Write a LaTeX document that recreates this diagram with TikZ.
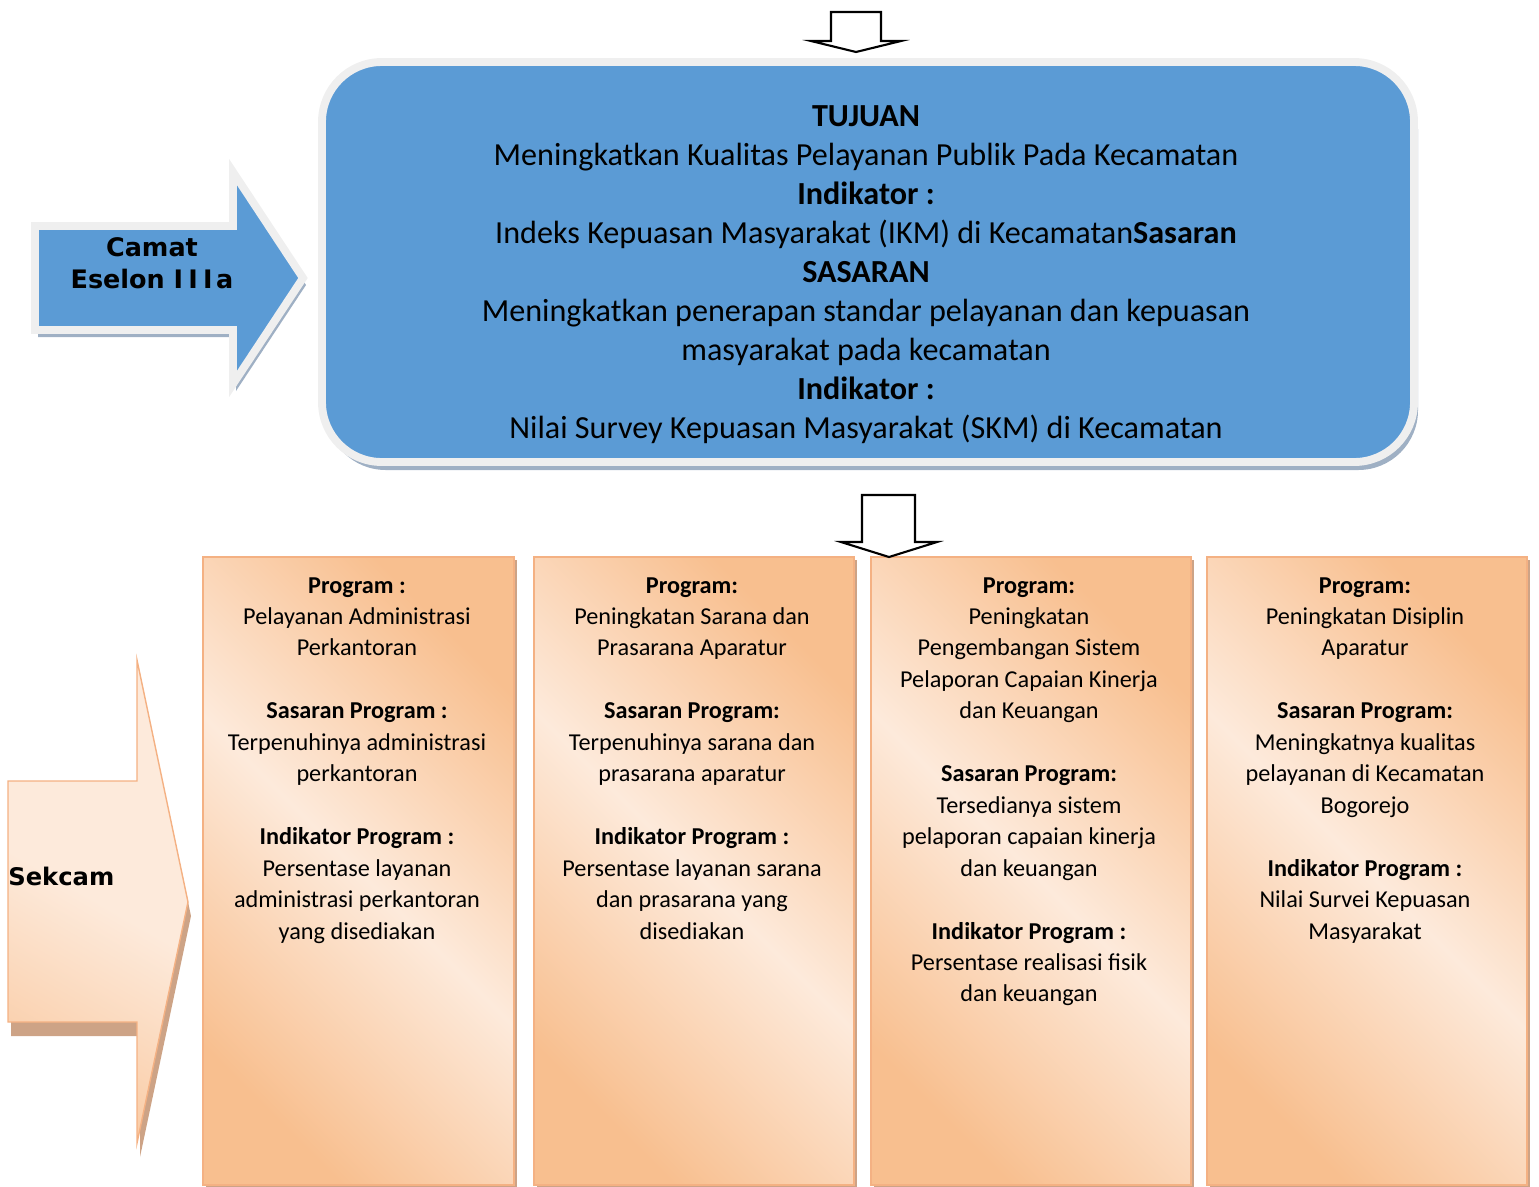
\documentclass[tikz,border=0pt]{standalone}
\usepackage{fontspec}
\setmainfont{Carlito}
\newfontfamily\verdana{DejaVu Sans}
\definecolor{tujuanblue}{HTML}{5B9BD5}
\definecolor{rimgray}{HTML}{EFEFEF}
\definecolor{blueshadow}{HTML}{9FB0C4}
\definecolor{peach}{HTML}{F8BF8F}
\definecolor{peachlight}{HTML}{FDEADB}
\definecolor{peachline}{HTML}{F4B183}
\definecolor{tanshadow}{HTML}{CDA386}

\begin{document}
\begin{tikzpicture}[x=0.02cm,y=-0.02cm,
		blockarrow/.style={draw=black,line width=1.2pt,fill=white,line join=miter},
		bluebody/.style={fill=tujuanblue,draw=rimgray,line width=4.5pt},
		blueshade/.style={fill=blueshadow},
		progbody/.style={draw=peachline,line width=0.8pt,shading=axis,top color=peach,bottom color=peach,middle color=peachlight,shading angle=-45},
		progshade/.style={fill=tanshadow},
		bigtext/.style={align=center,font=\fontsize{18.3}{22.2}\selectfont,inner sep=0pt},
		progtext/.style={align=center,anchor=north,font=\fontsize{13.8}{17.9}\selectfont,inner sep=0pt},
		labeltext/.style={align=center,font=\verdana\bfseries\fontsize{14.5}{18.2}\selectfont,inner sep=0pt}]
		\useasboundingbox (0,0) rectangle (1539,1187);
		\draw[blockarrow] (831,12) -- (881,12) -- (881,41) -- (901,41) -- (856,52) -- (811,41) -- (831,41) -- cycle;
		\fill[blueshade,rounded corners=34pt] (326,70) rectangle (1418,470);
		\draw[bluebody,rounded corners=34pt] (322,62) rectangle (1414,462);
		\node[bigtext] (tujuan) at (866,275) {\textbf{TUJUAN}\\
			Meningkatkan Kualitas Pelayanan Publik Pada Kecamatan\\
			\textbf{Indikator :}\\
			Indeks Kepuasan Masyarakat (IKM) di Kecamatan\textbf{Sasaran}\\
			\textbf{SASARAN}\\
			Meningkatkan penerapan standar pelayanan dan kepuasan\\
			masyarakat pada kecamatan\\
			\textbf{Indikator :}\\
			Nilai Survey Kepuasan Masyarakat (SKM) di Kecamatan};
		\fill[blueshade] (38,233) -- (236,233) -- (236,179) -- (306,285) -- (236,391) -- (236,337) -- (38,337) -- cycle;
		\draw[bluebody,line join=miter] (35,226) -- (233,226) -- (233,172) -- (303,278) -- (233,384) -- (233,330) -- (35,330) -- cycle;
		\node[labeltext] (camat) at (152,263) {Camat\\Eselon I\kern3pt I\kern3pt I\kern2pt a};
		\fill[progshade] (11,795) -- (140,795) -- (140,674) -- (191,916) -- (140,1157) -- (140,1036) -- (11,1036) -- cycle;
		\draw[draw=peachline,line width=0.8pt,shading=axis,top color=peachlight,bottom color=peach!70!peachlight,middle color=peachlight,shading angle=-30] (8,781) -- (137,781) -- (137,660) -- (188,902) -- (137,1143) -- (137,1022) -- (8,1022) -- cycle;
		\node[labeltext,anchor=west,font=\verdana\bfseries\fontsize{13.8}{18}\selectfont] (sekcam) at (8,876) {Sekcam};
		\foreach \xa/\xb in {203/514,534/854,871/1191,1207/1527} {
			\fill[progshade] (\xa+3,560) rectangle (\xb+3,1188);
			\draw[progbody] (\xa,557) rectangle (\xb,1185);
		}
		\node[progtext] (prog1) at (357,577) {\textbf{Program :}\\
			Pelayanan Administrasi\\ Perkantoran\\[17.9pt]
			\textbf{Sasaran Program :}\\
			Terpenuhinya administrasi\\ perkantoran\\[17.9pt]
			\textbf{Indikator Program :}\\
			Persentase layanan\\ administrasi perkantoran\\ yang disediakan};
		\node[progtext] (prog2) at (692,577) {\textbf{Program:}\\
			Peningkatan Sarana dan\\ Prasarana Aparatur\\[17.9pt]
			\textbf{Sasaran Program:}\\
			Terpenuhinya sarana dan\\ prasarana aparatur\\[17.9pt]
			\textbf{Indikator Program :}\\
			Persentase layanan sarana\\ dan prasarana yang\\ disediakan};
		\node[progtext] (prog3) at (1029,577) {\textbf{Program:}\\
			Peningkatan\\ Pengembangan Sistem\\ Pelaporan Capaian Kinerja\\ dan Keuangan\\[17.9pt]
			\textbf{Sasaran Program:}\\
			Tersedianya sistem\\ pelaporan capaian kinerja\\ dan keuangan\\[17.9pt]
			\textbf{Indikator Program :}\\
			Persentase realisasi fisik\\ dan keuangan};
		\node[progtext] (prog4) at (1365,577) {\textbf{Program:}\\
			Peningkatan Disiplin\\ Aparatur\\[17.9pt]
			\textbf{Sasaran Program:}\\
			Meningkatnya kualitas\\ pelayanan di Kecamatan\\ Bogorejo\\[17.9pt]
			\textbf{Indikator Program :}\\
			Nilai Survei Kepuasan\\ Masyarakat};
		\draw[blockarrow] (862,495) -- (915,495) -- (915,542) -- (937,542) -- (889,557) -- (841,542) -- (862,542) -- cycle;
	\end{tikzpicture}
\end{document}
